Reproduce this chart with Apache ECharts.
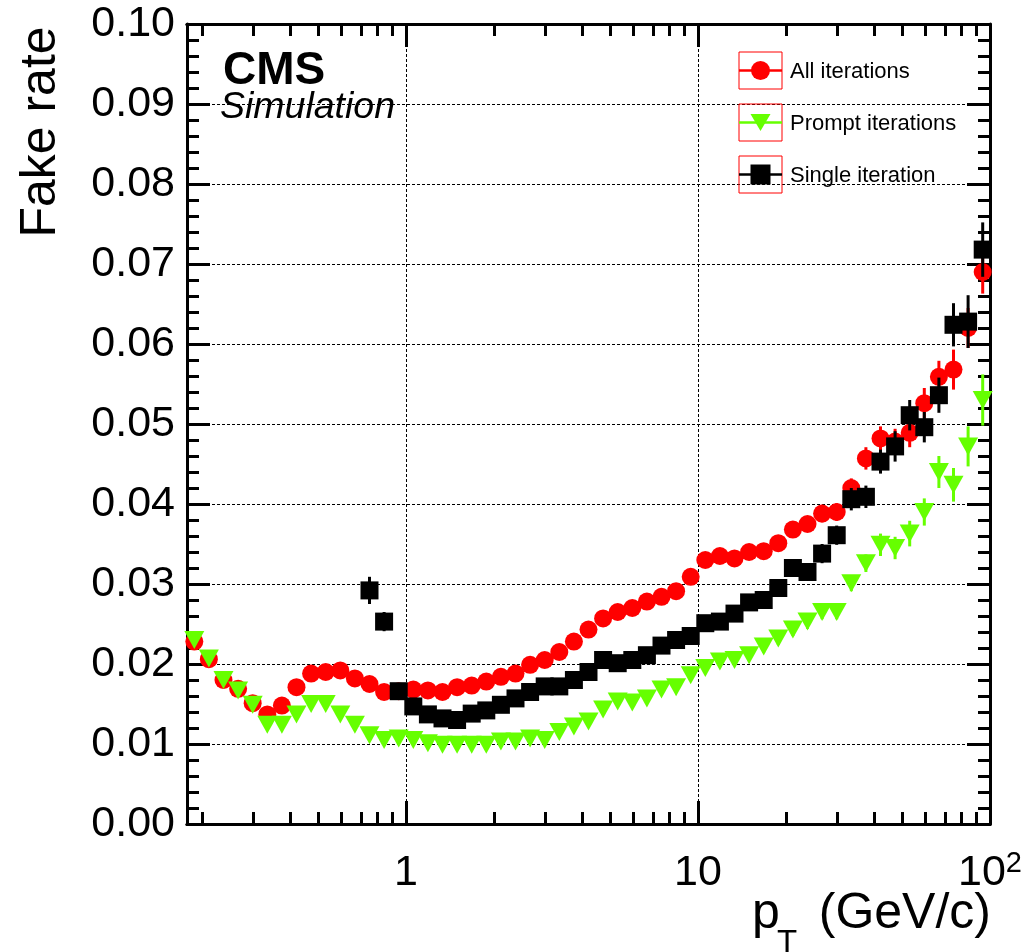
<!DOCTYPE html>
<html><head><meta charset="utf-8">
<script src="https://cdn.jsdelivr.net/npm/echarts@6/dist/echarts.min.js"></script>
<style>html,body{margin:0;padding:0;background:#fff}#c{width:1029px;height:952px}</style>
</head><body><div id="c"></div>
<script>
// pT bin centres (GeV/c), 20 bins per decade
const ptBins = [0.1884,0.2113,0.2371,0.2661,0.2985,0.3350,0.3758,0.4217,0.4732,0.5309,
  0.5957,0.6683,0.7499,0.8414,0.9441,1.0593,1.1885,1.3335,1.4962,1.6788,
  1.8836,2.1135,2.3714,2.6607,2.9854,3.3497,3.7584,4.2170,4.7315,5.3088,
  5.9566,6.6834,7.4989,8.4140,9.4406,10.593,11.885,13.335,14.962,16.788,
  18.836,21.135,23.714,26.607,29.854,33.497,37.584,42.170,47.315,53.088,
  59.566,66.834,74.989,84.140,94.406];
const allIter = [0.0228,0.0206,0.0180,0.0169,0.0151,0.0137,0.0148,0.0171,0.0188,0.0190,
  0.0192,0.0182,0.0175,0.0165,0.0166,0.0168,0.0167,0.0165,0.0171,0.0173,
  0.0178,0.0184,0.0188,0.0199,0.0205,0.0215,0.0228,0.0243,0.0257,0.0265,
  0.0270,0.0278,0.0284,0.0291,0.0309,0.0330,0.0335,0.0332,0.0340,0.0341,
  0.0351,0.0368,0.0375,0.0388,0.0390,0.0420,0.0457,0.0482,0.0478,0.0489,
  0.0526,0.0559,0.0568,0.0620,0.0690];
const promptIter = [0.0230,0.0207,0.0180,0.0167,0.0149,0.0124,0.0124,0.0137,0.0150,0.0150,
  0.0137,0.0124,0.0111,0.0105,0.0107,0.0105,0.0101,0.0099,0.0099,0.0099,
  0.0099,0.0103,0.0103,0.0107,0.0105,0.0115,0.0122,0.0128,0.0143,0.0153,
  0.0152,0.0157,0.0168,0.0171,0.0186,0.0195,0.0203,0.0205,0.0211,0.0222,
  0.0232,0.0243,0.0253,0.0265,0.0265,0.0301,0.0326,0.0349,0.0345,0.0363,
  0.0390,0.0440,0.0424,0.0472,0.0530];
const singleIter = [null,null,null,null,null,null,null,null,null,null,
  null,null,0.0292,0.0253,0.0166,0.0147,0.0137,0.0132,0.0130,0.0138,
  0.0142,0.0149,0.0157,0.0165,0.0172,0.0172,0.0180,0.0190,0.0205,0.0201,
  0.0205,0.0211,0.0223,0.0230,0.0235,0.0251,0.0253,0.0263,0.0277,0.0280,
  0.0295,0.0320,0.0315,0.0338,0.0361,0.0406,0.0409,0.0453,0.0472,0.0511,
  0.0496,0.0536,0.0624,0.0628,0.0718];
const allErr = [0.0005,0.0005,0.0005,0.0005,0.0005,0.0005,0.0005,0.0005,0.0005,0.0005,
  0.0005,0.0005,0.0005,0.0005,0.0005,0.0004,0.0004,0.0004,0.0004,0.0004,
  0.0004,0.0004,0.0004,0.0004,0.0005,0.0005,0.0005,0.0005,0.0005,0.0006,
  0.0006,0.0006,0.0006,0.0007,0.0007,0.0007,0.0008,0.0008,0.0008,0.0009,
  0.0009,0.0010,0.0010,0.0011,0.0011,0.0012,0.0014,0.0015,0.0016,0.0018,
  0.0019,0.0020,0.0025,0.0025,0.0027];
const promptErr = [0.0004,0.0004,0.0004,0.0004,0.0004,0.0004,0.0004,0.0004,0.0004,0.0004,
  0.0004,0.0004,0.0004,0.0004,0.0004,0.0004,0.0004,0.0004,0.0004,0.0004,
  0.0004,0.0004,0.0004,0.0004,0.0005,0.0005,0.0005,0.0005,0.0005,0.0005,
  0.0006,0.0006,0.0006,0.0006,0.0006,0.0006,0.0007,0.0007,0.0007,0.0008,
  0.0008,0.0008,0.0009,0.0009,0.0009,0.0010,0.0011,0.0014,0.0014,0.0016,
  0.0017,0.0020,0.0021,0.0025,0.0032];
const singleErr = [null,null,null,null,null,null,null,null,null,null,
  null,null,0.0017,0.0012,0.0005,0.0005,0.0005,0.0005,0.0005,0.0005,
  0.0005,0.0005,0.0005,0.0005,0.0006,0.0006,0.0006,0.0006,0.0006,0.0006,
  0.0007,0.0007,0.0007,0.0007,0.0008,0.0008,0.0008,0.0009,0.0009,0.0010,
  0.0010,0.0011,0.0011,0.0012,0.0012,0.0014,0.0014,0.0015,0.0019,0.0019,
  0.0019,0.0022,0.0027,0.0033,0.0034];
const seriesNames = ['All iterations','Prompt iterations','Single iteration'];
const xMajorTicks = [1, 10, 100];
const xMinorTicks = [0.2,0.3,0.4,0.5,0.6,0.7,0.8,0.9,2,3,4,5,6,7,8,9,20,30,40,50,60,70,80,90];
const xLabels = {1:'1', 10:'10', 100:'10^2'};

const FONT = "'Liberation Sans', Arial, Helvetica, sans-serif";
const RED = '#ff0000', GREEN = '#66ff00', BLACK = '#000000';
const XMIN = 0.17783, XMAX = 100;

function pts(ys){ const out=[]; ys.forEach((v,i)=>{ if(v!=null) out.push([ptBins[i], v]); }); return out; }
function errs(ys, es){ const out=[]; ys.forEach((v,i)=>{ if(v!=null && es[i]!=null) out.push([ptBins[i], v-es[i], v+es[i]]); }); return out; }
function errSeries(ys, es, color, z){
  return {type:'custom', xAxisIndex:0, yAxisIndex:0, z:z, silent:true, clip:true,
    data: errs(ys, es), encode:{x:0, y:[1,2]},
    renderItem:(params, api)=>{
      const p1 = api.coord([api.value(0), api.value(1)]);
      const p2 = api.coord([api.value(0), api.value(2)]);
      return {type:'line', shape:{x1:p1[0],y1:p1[1],x2:p2[0],y2:p2[1]}, style:{stroke:color, lineWidth:3}};
    }};
}

const gridDash = {color:'#000', width:1, type:[3,2]};
function xAx(pos, ticks, len, labels, split){
  return {type:'log', logBase:10, min:XMIN, max:XMAX, position:pos, gridIndex:0,
    axisLine:{show:true, onZero:false, lineStyle:{color:'#000', width:3}},
    axisTick:{show:true, inside:true, length:len, customValues:ticks, lineStyle:{color:'#000', width:3}},
    minorTick:{show:false}, splitLine:{show:split, lineStyle:gridDash},
    axisLabel: labels ? {show:true, customValues:xMajorTicks, margin:25, color:'#000',
      fontFamily:FONT, fontSize:43,
      formatter:(v)=>{ const s = xLabels[Math.round(v)]; if(s==='10^2') return '{b|10}{s|2}'; return '{b|'+s+'}'; },
      rich:{b:{fontFamily:FONT, fontSize:43, lineHeight:48, color:'#000'},
            s:{fontFamily:FONT, fontSize:29, lineHeight:29, padding:[0,0,19,0], verticalAlign:'bottom', color:'#000'}}}
      : {show:false}
  };
}
function yAx(pos, labels){
  return {type:'value', min:0, max:0.1, interval:0.01, position:pos, gridIndex:0,
    axisLine:{show:true, onZero:false, lineStyle:{color:'#000', width:3}},
    axisTick:{show:true, inside:true, length:23, lineStyle:{color:'#000', width:3}},
    minorTick:{show:true, splitNumber:5, length:12, lineStyle:{color:'#000', width:3}},
    splitLine:{show:labels, lineStyle:gridDash},
    axisLabel: labels ? {show:true, margin:12, color:'#000', fontFamily:FONT, fontSize:43,
      formatter:(v)=>v.toFixed(2)} : {show:false}
  };
}

const legendRows = [
  {name:seriesNames[0], color:RED, y:52, marker:'circle'},
  {name:seriesNames[1], color:GREEN, y:104, marker:'tri'},
  {name:seriesNames[2], color:BLACK, y:156, marker:'square'}
];
const graphics = [];
legendRows.forEach(r=>{
  const cx = 760.5, cy = r.y + 18.5;
  graphics.push({type:'rect', shape:{x:739, y:r.y, width:43, height:37}, style:{fill:'none', stroke:RED, lineWidth:1}, z:100});
  graphics.push({type:'line', shape:{x1:739, y1:cy, x2:782, y2:cy}, style:{stroke:r.color, lineWidth:2.5}, z:101});
  if (r.marker==='circle') graphics.push({type:'circle', shape:{cx:cx, cy:cy, r:9.5}, style:{fill:r.color}, z:102});
  else if (r.marker==='tri') graphics.push({type:'polygon', shape:{points:[[cx-10,cy-8.5],[cx+10,cy-8.5],[cx,cy+8.5]]}, style:{fill:r.color}, z:102});
  else graphics.push({type:'rect', shape:{x:cx-10, y:cy-10, width:20, height:20}, style:{fill:r.color}, z:102});
  graphics.push({type:'text', x:790, y:cy+1.5, style:{text:r.name, fontFamily:FONT, fontSize:22, fill:'#000', align:'left', verticalAlign:'middle'}, z:102});
});
graphics.push({type:'text', x:223, y:71, style:{text:'CMS', fontFamily:FONT, fontSize:46, fontWeight:'bold', fill:'#000', align:'left', verticalAlign:'middle'}, z:102});
graphics.push({type:'text', x:220, y:107.5, style:{text:'Simulation', fontFamily:FONT, fontSize:37.5, fontStyle:'italic', fill:'#000', align:'left', verticalAlign:'middle'}, z:102});
graphics.push({type:'text', x:41, y:132, rotation:Math.PI/2, style:{text:'Fake rate', fontFamily:FONT, fontSize:50, fill:'#000', align:'center', verticalAlign:'middle'}, z:102});
graphics.push({type:'text', x:752, y:914.5, style:{text:'p', fontFamily:FONT, fontSize:50, fill:'#000', align:'left', verticalAlign:'middle'}, z:102});
graphics.push({type:'text', x:777, y:944, style:{text:'T', fontFamily:FONT, fontSize:33, fill:'#000', align:'left', verticalAlign:'middle'}, z:102});
graphics.push({type:'text', x:991, y:914.5, style:{text:'(GeV/c)', fontFamily:FONT, fontSize:50, fill:'#000', align:'right', verticalAlign:'middle'}, z:102});

const chart = echarts.init(document.getElementById('c'), null, {renderer:'canvas'});
chart.setOption({
  animation:false,
  backgroundColor:'#fff',
  textStyle:{fontFamily:FONT},
  grid:{left:187, right:39, top:24, bottom:128, containLabel:false, outerBoundsMode:'none'},
  xAxis:[
    xAx('bottom', xMajorTicks, 23, true, true),
    xAx('bottom', xMinorTicks, 12, false, false),
    xAx('top', xMajorTicks, 23, false, false),
    xAx('top', xMinorTicks, 12, false, false)
  ],
  yAxis:[ yAx('left', true), yAx('right', false) ],
  graphic: graphics,
  series:[
    errSeries(allIter, allErr, RED, 2),
    {type:'scatter', name:seriesNames[0], xAxisIndex:0, yAxisIndex:0, z:2, data:pts(allIter),
      symbol:'circle', symbolSize:18, itemStyle:{color:RED, opacity:1}, emphasis:{disabled:true}},
    errSeries(promptIter, promptErr, GREEN, 3),
    {type:'scatter', name:seriesNames[1], xAxisIndex:0, yAxisIndex:0, z:3, data:pts(promptIter),
      symbol:'triangle', symbolRotate:180, symbolSize:[20,18], itemStyle:{color:GREEN, opacity:1}, emphasis:{disabled:true}},
    errSeries(singleIter, singleErr, BLACK, 4),
    {type:'scatter', name:seriesNames[2], xAxisIndex:0, yAxisIndex:0, z:4, data:pts(singleIter),
      symbol:'rect', symbolSize:18, itemStyle:{color:BLACK, opacity:1}, emphasis:{disabled:true}}
  ]
});
</script></body></html>
